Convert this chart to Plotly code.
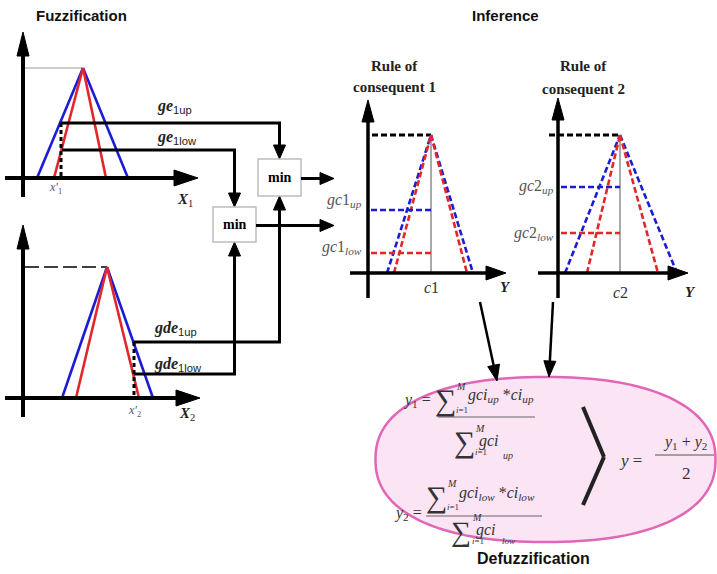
import math
import plotly.graph_objects as go

W, H = 717, 574

# ---------------- data (diagram coordinates, px) ----------------
# Fuzzification input 1: triangles (left base, apex, right base)
fz1_blue = [37, 83, 128]
fz1_red = [54, 83, 106]
fz1_base, fz1_peak = 178, 68
ge1_levels = [123, 150]          # ge1up, ge1low
x1_prime = 61

# Fuzzification input 2
fz2_blue = [62, 107, 153]
fz2_red = [76, 107, 139]
fz2_base, fz2_peak = 398, 267
gde1_levels = [342, 374]         # gde1up, gde1low
x2_prime = 134

# Consequent 1
c1_blue = [387, 431, 473]
c1_red = [394, 431, 467]
c1_base, c1_peak = 273, 135
gc1_levels = [210, 253]          # up, low

# Consequent 2
c2_blue = [565, 620, 677]
c2_red = [587, 620, 658]
c2_base, c2_peak = 273, 135
gc2_levels = [187, 233]

# min boxes (x0, x1, y0, y1)
min_boxes = [[258, 301, 159, 196], [213, 256, 207, 242]]

BLUE = "#1c1cd6"
RED = "#e3262a"
SERIF = "Liberation Serif"
SANS = "Liberation Sans"

shapes = []
annots = []


def line(x0, y0, x1, y1, color="black", width=3, dash="solid"):
    shapes.append(dict(type="line", xref="x", yref="y", x0=x0, y0=y0, x1=x1, y1=y1,
                       line=dict(color=color, width=width, dash=dash)))


def poly(points, color="black"):
    path = "M " + " L ".join(f"{x},{y}" for x, y in points) + " Z"
    shapes.append(dict(type="path", xref="x", yref="y", path=path, fillcolor=color,
                       line=dict(color=color, width=1)))


def arrow(x0, y0, x1, y1, width=3, hl=14, hw=6, color="black"):
    dx, dy = x1 - x0, y1 - y0
    L = math.hypot(dx, dy)
    ux, uy = dx / L, dy / L
    bx, by = x1 - ux * hl, y1 - uy * hl
    line(x0, y0, bx + ux * 2, by + uy * 2, color=color, width=width)
    px, py = -uy, ux
    poly([(x1, y1), (bx + px * hw, by + py * hw), (bx - px * hw, by - py * hw)], color)


def text(x, y, t, size=14, family=SERIF, color="black", xanchor="center", yanchor="middle"):
    annots.append(dict(x=x, y=y, xref="x", yref="y", text=t, showarrow=False,
                       font=dict(size=size, family=family, color=color),
                       xanchor=xanchor, yanchor=yanchor))


def triangle(tri, base, peak, color, width=2.6, dash="solid"):
    l, a, r = tri
    line(l, base, a, peak, color=color, width=width, dash=dash)
    line(a, peak, r, base, color=color, width=width, dash=dash)


# ---------------- rounded ellipse, drawn below everything ----------------
ecx, ecy, ea, eb, en = 545.5, 459.5, 170, 82.5, 2.3
pts = []
for k in range(160):
    t = 2 * math.pi * k / 160
    c, s = math.cos(t), math.sin(t)
    px = ecx + ea * math.copysign(abs(c) ** (2 / en), c)
    py = ecy + eb * math.copysign(abs(s) ** (2 / en), s)
    pts.append(f"{px:.2f},{py:.2f}")
shapes.append(dict(type="path", xref="x", yref="y", path="M " + " L ".join(pts) + " Z",
                   layer="below", fillcolor="#fbe4f3", line=dict(color="#e266b8", width=2.5)))

# ---------------- Fuzzification panel 1 ----------------
line(24, fz1_peak, fz1_blue[1], fz1_peak, color="#9a9a9a", width=1)
triangle(fz1_blue, fz1_base, fz1_peak, BLUE)
triangle(fz1_red, fz1_base, fz1_peak, RED)
arrow(23, 197, 23, 32, width=4, hl=24, hw=6)
arrow(5, fz1_base, 198, fz1_base, width=4, hl=24, hw=8)
line(x1_prime, ge1_levels[0], x1_prime, fz1_base, width=3, dash="4px,3px")

# ---------------- Fuzzification panel 2 ----------------
line(25, fz2_peak, fz2_blue[1], fz2_peak, color="black", width=1.5, dash="14px,5px")
triangle(fz2_blue, fz2_base, fz2_peak, BLUE)
triangle(fz2_red, fz2_base, fz2_peak, RED)
arrow(23, 417, 23, 225, width=4, hl=24, hw=6)
arrow(5, fz2_base, 200, fz2_base, width=4, hl=24, hw=8)
line(x2_prime, gde1_levels[0], x2_prime, fz2_base, width=3, dash="4px,3px")

# ---------------- connectors & min boxes ----------------
b1, b2 = min_boxes
cx1 = (b1[0] + b1[1]) / 2
cx2 = (b2[0] + b2[1]) / 2
line(x1_prime, ge1_levels[0], cx1 + 1.5, ge1_levels[0])
arrow(cx1, ge1_levels[0], cx1, b1[2], hl=14, hw=6)
line(x1_prime + 1, ge1_levels[1], cx2 + 1.5, ge1_levels[1])
arrow(cx2, ge1_levels[1], cx2, b2[2], hl=14, hw=6)
line(x2_prime, gde1_levels[0], cx1 + 1.5, gde1_levels[0])
arrow(cx1, gde1_levels[0], cx1, b1[3], hl=14, hw=6)
line(x2_prime, gde1_levels[1], cx2 + 1.5, gde1_levels[1])
arrow(cx2, gde1_levels[1], cx2, b2[3], hl=14, hw=6)

for bx in min_boxes:
    shapes.append(dict(type="rect", xref="x", yref="y", x0=bx[0], x1=bx[1], y0=bx[2], y1=bx[3],
                       fillcolor="white", line=dict(color="#bdbdbd", width=1.5)))
    text((bx[0] + bx[1]) / 2, (bx[2] + bx[3]) / 2, "<b>min</b>", size=14)

arrow(b1[1], (b1[2] + b1[3]) / 2 + 1, 334, (b1[2] + b1[3]) / 2 + 1, hl=14, hw=6)
arrow(b2[1], (b2[2] + b2[3]) / 2 + 1, 334, (b2[2] + b2[3]) / 2 + 1, hl=14, hw=6)


# ---------------- consequents ----------------
def consequent(axx, blue, red, base, peak, levels, ytop_start):
    line(ytop_start, peak, blue[1], peak, color="black", width=3, dash="6px,3px")
    line(blue[1], peak, blue[1], base, color="#8c8c8c", width=1.5)
    triangle(blue, base, peak, BLUE, width=2.6, dash="6px,3px")
    triangle(red, base, peak, RED, width=2.6, dash="6px,3px")
    line(axx + 3, levels[0], blue[1], levels[0], color=BLUE, width=2.6, dash="6px,3px")
    line(axx + 3, levels[1], blue[1], levels[1], color=RED, width=2.6, dash="6px,3px")


consequent(368, c1_blue, c1_red, c1_base, c1_peak, gc1_levels, 372)
arrow(368, 298, 368, 100, width=3.5, hl=22, hw=6)
arrow(350, c1_base, 506, c1_base, width=3.5, hl=20, hw=7)

consequent(558, c2_blue, c2_red, c2_base, c2_peak, gc2_levels, 549)
arrow(558, 298, 558, 98, width=3.5, hl=22, hw=6)
arrow(538, c2_base, 688, c2_base, width=3.5, hl=20, hw=7)

# arrows to defuzzification
arrow(480, 302, 497, 381, width=2.5, hl=16, hw=6)
arrow(553, 302, 549, 377, width=2.5, hl=16, hw=6)

# ---------------- formula ----------------
FC = "#333333"


def sigma(x, y, size=30):
    text(x, y, "∑", size=size, family=SERIF, color=FC)
    text(x + 9, y - 14, "<i>M</i>", size=10, family=SERIF, color=FC, xanchor="left")
    text(x + 9, y + 10, "<i>i</i>=1", size=9, family=SERIF, color=FC, xanchor="left")


text(417, 400, "<i>y</i><sub>1</sub> =", size=16, color=FC)
sigma(445, 400)
text(466, 395, "<i>gci<sub>up</sub></i> *<i>ci<sub>up</sub></i>", size=16, color=FC, xanchor="left")
line(438, 417, 535, 417, color="#666", width=1)
sigma(464, 442)
text(477, 441, "<i>gci</i>", size=16, color=FC, xanchor="left")
text(501, 455, "<i>up</i>", size=10, color=FC, xanchor="left")

text(408, 513, "<i>y</i><sub>2</sub> =", size=16, color=FC)
sigma(436, 497)
text(457, 493, "<i>gci<sub>low</sub></i> *<i>ci<sub>low</sub></i>", size=16, color=FC, xanchor="left")
line(426, 516, 542, 516, color="#666", width=1)
sigma(461, 531, size=28)
text(474, 530, "<i>gci</i>", size=16, color=FC, xanchor="left")
text(500, 541, "<i>low</i>", size=9, color=FC, xanchor="left")

line(583, 407, 604, 457, color="#222", width=4)
line(604, 457, 583, 505, color="#222", width=4)

text(630, 460, "<i>y</i> =", size=17, color=FC)
text(685, 442, "<i>y</i><sub>1</sub> + <i>y</i><sub>2</sub>", size=16, color=FC)
line(655, 455, 714, 455, color="#555", width=1)
text(686, 473, "2", size=17, color=FC)

# ---------------- text labels ----------------
text(81, 15, "<b>Fuzzification</b>", size=15, family=SANS, color="#111")
text(505, 15, "<b>Inference</b>", size=15, family=SANS, color="#111")
text(533, 558, "<b>Defuzzification</b>", size=16, family=SANS, color="#111")

text(394, 66, "<b>Rule of</b>", size=15, family=SERIF, color="#222")
text(394, 87, "<b>consequent 1</b>", size=15, family=SERIF, color="#222")
text(583, 66, "<b>Rule of</b>", size=15, family=SERIF, color="#222")
text(583, 89, "<b>consequent 2</b>", size=15, family=SERIF, color="#222")


def glabel(x, y, main, sub):
    text(x, y, f"<b><i>{main}</i></b><sub><span style='font-family:{SANS}'>{sub}</span></sub>",
         size=16, family=SERIF, color="#222", xanchor="left")


glabel(155, 106, "ge", "1up")
glabel(155, 137, "ge", "1low")
glabel(152, 328, "gde", "1up")
glabel(152, 364, "gde", "1low")

text(55, 188, "<i>x'</i><sub>1</sub>", size=12, color="#555")
text(134, 411, "<i>x'</i><sub>2</sub>", size=12, color="#555")
text(185, 200, "<b><i>X</i></b><sub>1</sub>", size=15, color="#222")
text(187, 414, "<b><i>X</i></b><sub>2</sub>", size=15, color="#222")

text(364, 200, "<i>gc</i>1<sub><i>up</i></sub>", size=16, color="#555", xanchor="right")
text(364, 247, "<i>gc</i>1<sub><i>low</i></sub>", size=16, color="#555", xanchor="right")
text(556, 186, "<i>gc</i>2<sub><i>up</i></sub>", size=16, color="#555", xanchor="right")
text(556, 233, "<i>gc</i>2<sub><i>low</i></sub>", size=16, color="#555", xanchor="right")

text(431, 287, "<i>c</i>1", size=16, color="#333")
text(505, 287, "<b><i>Y</i></b>", size=15, color="#222")
text(620, 292, "<i>c</i>2", size=16, color="#333")
text(690, 292, "<b><i>Y</i></b>", size=15, color="#222")

fig = go.Figure()
fig.update_layout(
    width=W, height=H, margin=dict(l=0, r=0, t=0, b=0),
    paper_bgcolor="white", plot_bgcolor="white",
    xaxis=dict(range=[0, W], visible=False, fixedrange=True),
    yaxis=dict(range=[H, 0], visible=False, fixedrange=True),
    shapes=shapes, annotations=annots, showlegend=False,
)
fig.write_html("out.html")
